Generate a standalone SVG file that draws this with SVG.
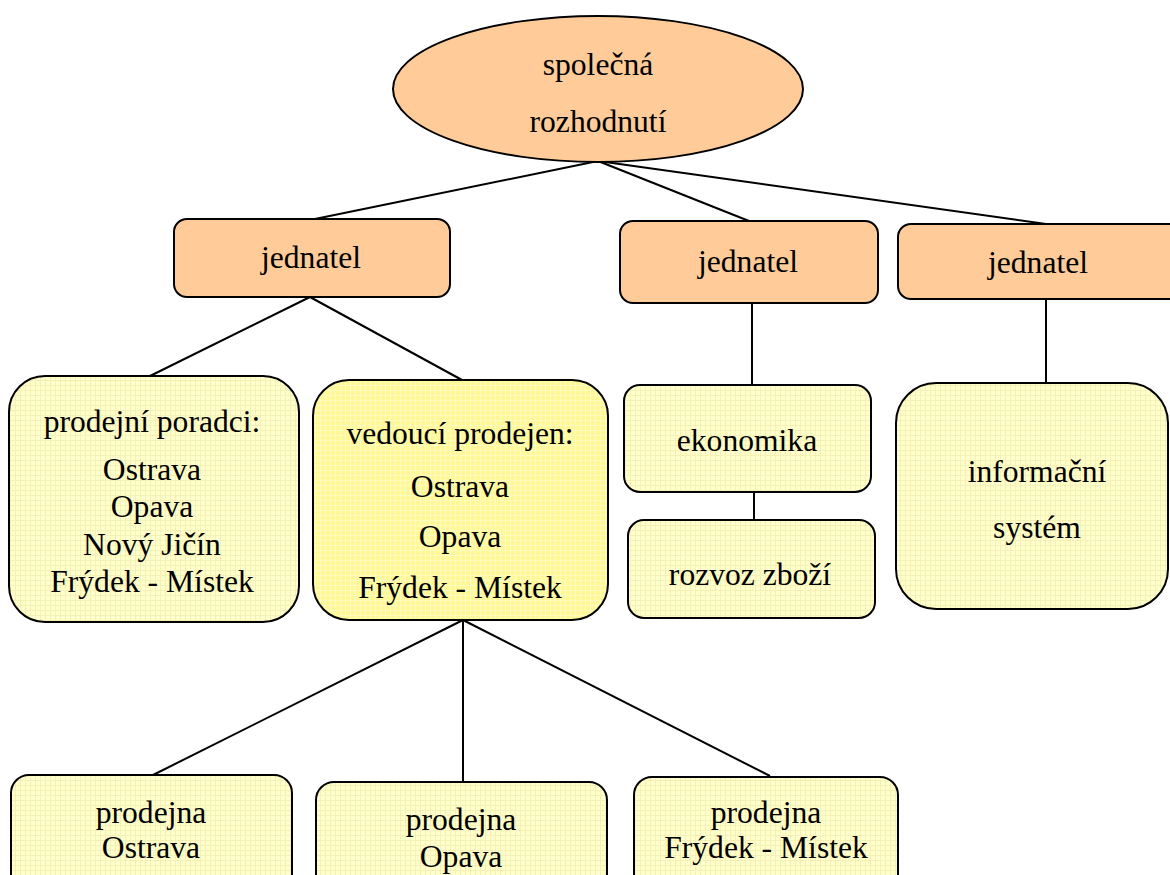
<svg xmlns="http://www.w3.org/2000/svg" width="1170" height="875" viewBox="0 0 1170 875">
<style>
.t{font-family:"Liberation Serif","Times New Roman",serif;font-size:31.6px;fill:#000;text-anchor:middle}
.o{fill:#FFCC99;stroke:#000;stroke-width:2}
.y{fill:url(#gridL);stroke:#000;stroke-width:2}
.yy{fill:url(#gridY);stroke:#000;stroke-width:2}
.c line{stroke:#000;stroke-width:2}
</style>
<defs>
<pattern id="gridL" width="5" height="5" patternUnits="userSpaceOnUse">
<rect width="5" height="5" fill="#FFFFCC"/>
<path d="M0 0.5H5M0.5 0V5" stroke="#F5F0B5" stroke-width="1"/>
</pattern>
<pattern id="gridY" width="5" height="5" patternUnits="userSpaceOnUse">
<rect width="5" height="5" fill="#FFF897"/>
<path d="M0 0.5H5M0.5 0V5" stroke="#FFFBBE" stroke-width="1"/>
</pattern>
</defs>
<rect width="1170" height="875" fill="#fff"/>
<g class="c" id="connectors">
<line x1="598" y1="161" x2="310" y2="220"/>
<line x1="598" y1="161" x2="749" y2="221"/>
<line x1="598" y1="161" x2="1046" y2="224"/>
<line x1="310" y1="297" x2="150" y2="376"/>
<line x1="310" y1="297" x2="462" y2="380"/>
<line x1="752" y1="303" x2="752" y2="385"/>
<line x1="754" y1="492" x2="754" y2="520"/>
<line x1="1046" y1="299" x2="1046" y2="383"/>
<line x1="463" y1="620" x2="153" y2="775"/>
<line x1="463" y1="620" x2="463" y2="781"/>
<line x1="463" y1="620" x2="770" y2="776"/>
</g>
<g id="root">
<ellipse class="o" cx="598" cy="89" rx="205" ry="73"/>
<text class="t" x="598" y="75">společná</text>
<text class="t" x="598" y="132">rozhodnutí</text>
</g>
<g id="jednatel1">
<rect class="o" x="174" y="219" width="276" height="78" rx="13"/>
<text class="t" x="311" y="268">jednatel</text>
</g>
<g id="jednatel2">
<rect class="o" x="620" y="221" width="258" height="82" rx="13"/>
<text class="t" x="748" y="272">jednatel</text>
</g>
<g id="jednatel3">
<rect class="o" x="898" y="224" width="290" height="75" rx="13"/>
<text class="t" x="1038" y="273">jednatel</text>
</g>
<g id="poradci">
<rect class="y" x="9" y="376" width="290" height="246" rx="36"/>
<text class="t" x="152" y="432">prodejní poradci:</text>
<text class="t" x="152" y="480">Ostrava</text>
<text class="t" x="152" y="517">Opava</text>
<text class="t" x="152" y="555">Nový Jičín</text>
<text class="t" x="152" y="592">Frýdek - Místek</text>
</g>
<g id="vedouci">
<rect class="yy" x="313" y="380" width="295" height="240" rx="36"/>
<text class="t" x="460" y="444">vedoucí prodejen:</text>
<text class="t" x="460" y="497">Ostrava</text>
<text class="t" x="460" y="547">Opava</text>
<text class="t" x="460" y="598">Frýdek - Místek</text>
</g>
<g id="ekonomika">
<rect class="y" x="624" y="385" width="247" height="107" rx="16"/>
<text class="t" x="747" y="451">ekonomika</text>
</g>
<g id="rozvoz">
<rect class="y" x="628" y="520" width="247" height="98" rx="16"/>
<text class="t" x="750" y="585">rozvoz zboží</text>
</g>
<g id="informacni">
<rect class="y" x="896" y="383" width="272" height="226" rx="40"/>
<text class="t" x="1037" y="482">informační</text>
<text class="t" x="1037" y="538">systém</text>
</g>
<g id="prodejna1">
<rect class="y" x="11" y="775" width="281" height="130" rx="18"/>
<text class="t" x="151" y="823">prodejna</text>
<text class="t" x="151" y="858">Ostrava</text>
</g>
<g id="prodejna2">
<rect class="y" x="316" y="782" width="291" height="130" rx="18"/>
<text class="t" x="461" y="830">prodejna</text>
<text class="t" x="461" y="867">Opava</text>
</g>
<g id="prodejna3">
<rect class="y" x="634" y="777" width="264" height="130" rx="18"/>
<text class="t" x="766" y="823">prodejna</text>
<text class="t" x="766" y="858">Frýdek - Místek</text>
</g>
</svg>
